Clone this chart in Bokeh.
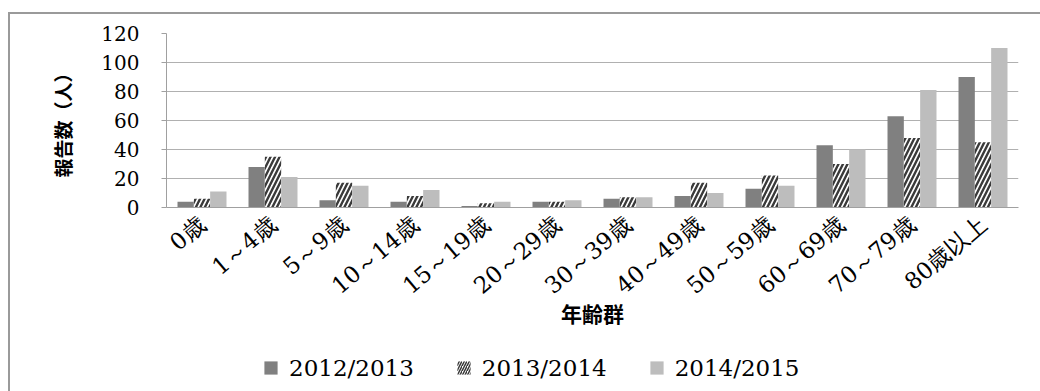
from bokeh.embed import file_html
from bokeh.layouts import column
from bokeh.models import (ColumnDataSource, FactorRange, Legend, LegendItem,
                          Range1d)
from bokeh.plotting import figure
from bokeh.resources import INLINE
from bokeh.transform import dodge

# Age groups and reported cases per season
age_groups = ["0歳", "1～4歳", "5～9歳", "10～14歳", "15～19歳", "20～29歳",
              "30～39歳", "40～49歳", "50～59歳", "60～69歳", "70～79歳", "80歳以上"]
season_names = ["2012/2013", "2013/2014", "2014/2015"]
cases_2012_2013 = [4, 28, 5, 4, 1, 4, 6, 8, 13, 43, 63, 90]
cases_2013_2014 = [6, 35, 17, 8, 3, 4, 7, 17, 22, 30, 48, 45]
cases_2014_2015 = [11, 21, 15, 12, 4, 5, 7, 10, 15, 40, 81, 110]
y_ticks = [0, 20, 40, 60, 80, 100, 120]

src = ColumnDataSource(dict(age=age_groups, a=cases_2012_2013,
                            b=cases_2013_2014, c=cases_2014_2015))

SERIF = "DejaVu Serif"
CJK = "Noto Sans CJK JP"

DARK, LIGHT, HATCH = "#808080", "#bdbdbd", "#3a3a3a"

# bar styles
bar_styles = [dict(fill_color=DARK, line_color=None),
              dict(fill_color="white", line_color=None, hatch_pattern="/",
                   hatch_color=HATCH, hatch_weight=2.4, hatch_scale=9),
              dict(fill_color=LIGHT, line_color=None)]
# matching legend swatches
swatch_styles = [dict(fill_color=DARK, line_color=None),
                 dict(fill_color="white", line_color=None, hatch_pattern="/",
                      hatch_color=HATCH, hatch_weight=1.5, hatch_scale=5),
                 dict(fill_color=LIGHT, line_color=None)]

p = figure(width=1030, height=330, x_range=FactorRange(*age_groups),
           y_range=Range1d(0, 120), output_backend="svg", toolbar_location=None,
           min_border_left=156, min_border_right=22, min_border_top=19,
           min_border_bottom=137)
p.outline_line_color = None
p.background_fill_color = "white"
p.border_fill_color = "white"

bw = 0.23
for col, off, st in zip(["a", "b", "c"], [-bw, 0, bw], bar_styles):
    p.vbar(x=dodge("age", off, range=p.x_range), top=col, width=bw,
           source=src, **st)

# grid
p.xgrid.grid_line_color = None
p.ygrid.grid_line_color = "#b0b0b0"
p.ygrid.grid_line_width = 1
p.yaxis.ticker = y_ticks

# y axis
p.yaxis.axis_line_color = "#a0a0a0"
p.yaxis.major_tick_line_color = "#a0a0a0"
p.yaxis.major_tick_in = 0
p.yaxis.major_tick_out = 5
p.yaxis.minor_tick_line_color = None
p.yaxis.major_label_standoff = 22
p.yaxis.major_label_text_font = SERIF
p.yaxis.major_label_text_font_size = "20px"
p.yaxis.major_label_text_color = "black"
p.yaxis.axis_label = "報告数（人）"
p.yaxis.axis_label_text_font = CJK
p.yaxis.axis_label_text_font_style = "bold"
p.yaxis.axis_label_text_font_size = "19px"
p.yaxis.axis_label_text_color = "black"
p.yaxis.axis_label_standoff = 22

# x axis
p.xaxis.axis_line_color = "#a0a0a0"
p.xaxis.major_tick_line_color = None
p.xaxis.minor_tick_line_color = None
p.xaxis.major_label_orientation = 0.7
p.xaxis.major_label_standoff = 8
p.xaxis.major_label_text_font = SERIF
p.xaxis.major_label_text_font_size = "23px"
p.xaxis.major_label_text_color = "black"
p.xaxis.axis_label = "年齢群"
p.xaxis.axis_label_text_font = CJK
p.xaxis.axis_label_text_font_style = "bold"
p.xaxis.axis_label_text_font_size = "21px"
p.xaxis.axis_label_text_color = "black"
p.xaxis.axis_label_standoff = -14

# legend strip under the chart (swatch renderers sit far outside its range)
q = figure(width=1030, height=47, x_range=Range1d(0, 1), y_range=Range1d(0, 1),
           output_backend="svg", toolbar_location=None, min_border=0)
q.axis.visible = False
q.grid.visible = False
q.outline_line_color = None
q.background_fill_color = "white"
q.border_fill_color = "white"
offscreen = ColumnDataSource(dict(x=[-1000], y=[-1000]))
swatches = [q.scatter(x="x", y="y", source=offscreen, marker="square", size=13,
                      **st)
            for st in swatch_styles]
# marker swatches are drawn at 0.4 of the glyph box, so the box is ~33 px
legend = Legend(items=[LegendItem(label=n, renderers=[r])
                       for n, r in zip(season_names, swatches)],
                orientation="horizontal", location=(88, 7),
                glyph_width=33, glyph_height=33, label_standoff=2, spacing=33,
                padding=0, margin=0, border_line_color=None,
                background_fill_alpha=0, label_text_font=SERIF,
                label_text_font_size="23px", label_text_color="black")
q.add_layout(legend, "center")

page = column(p, q, spacing=0,
              styles={"margin-left": "8px", "margin-top": "12px",
                      "border-left": "2px solid #9a9a9a",
                      "border-top": "2px solid #9a9a9a"})

open("out.html", "w").write(file_html(page, INLINE))
